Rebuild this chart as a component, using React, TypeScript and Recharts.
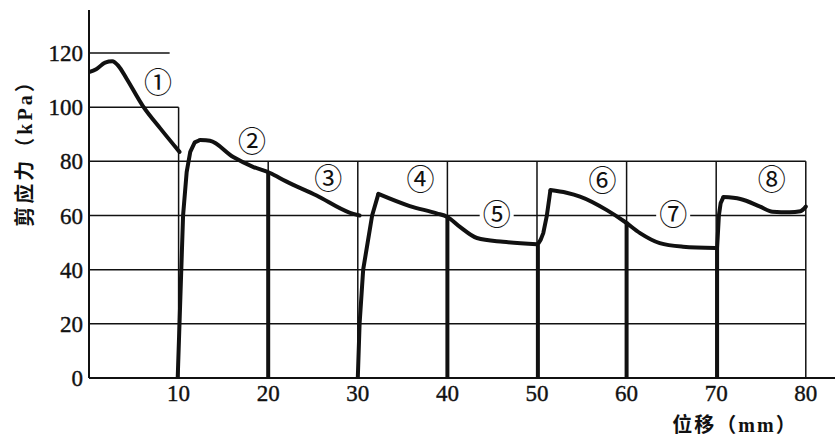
import React from 'react'
import { ComposedChart, Line, XAxis, YAxis, ReferenceLine, Scatter } from 'recharts'

// x = displacement (mm), y = shear stress (kPa)
const xTicks = [10, 20, 30, 40, 50, 60, 70, 80]
const yTicks = [0, 20, 40, 60, 80, 100, 120]

// partial grid as printed
const hGridLevels = [120, 100, 80, 60, 40, 20]
const hGridEnds = [9, 10, 80, 80, 80, 80]
const vGridPos = [10, 20, 30, 40, 50, 60, 70, 80]
const vGridTops = [100, 80, 80, 80, 80, 80, 80, 80]

// curve pieces (rises are drawn straight, decays smooth)
const decay1 = [[0, 113], [0.8, 114], [1.8, 116.5], [2.6, 117], [3.3, 115.2], [4.2, 110.5], [6, 100.5], [8, 92], [10.1, 83.5]]
const rise2 = [[9.9, 0], [10.2, 30], [10.5, 60], [10.9, 76], [11.3, 83.5], [11.8, 87], [12.4, 87.9]]
const decay2 = [[12.4, 87.9], [13.5, 87.6], [16.1, 81.6], [18.3, 78], [20.2, 75.7], [22, 72.6], [25.4, 67.4], [29, 61.2], [30.2, 60]]
const rise3 = [[30, 0], [30.2, 20], [30.6, 40], [31.1, 50], [31.6, 60], [32.3, 68]]
const decay3 = [[32.3, 68], [35.8, 63.5], [38.8, 60.8], [40, 59.5], [41.4, 55.8], [43.3, 51.7], [46.2, 50.3], [50, 49.4]]
const rise4 = [[50.1, 0], [50.1, 49.4], [50.4, 51], [50.7, 53.5], [51.1, 60], [51.4, 67], [51.5, 69.4]]
const decay4 = [[51.5, 69.4], [53.3, 68.4], [54.8, 67], [57.8, 62], [59.8, 57.7], [61.5, 53.5], [63.7, 49.8], [66.3, 48.5], [69.9, 48]]
const rise5 = [[70.1, 0], [70.1, 48], [70.3, 60], [70.5, 64.6], [70.8, 66.8]]
const decay5 = [[70.8, 66.8], [72.7, 66.1], [74.9, 63.3], [76.3, 61.4], [78.2, 61.2], [79.4, 61.6], [80, 63.3]]

// heavy verticals down to the axis
const dropX = [20, 40, 60]
const dropTop = [75.7, 59.5, 57.7]

// circled stage numbers
const markText = ['①', '②', '③', '④', '⑤', '⑥', '⑦', '⑧']
const markX = [7.7, 18.2, 26.7, 37, 45.5, 57.3, 65.2, 76.2]
const markY = [109, 87, 73.5, 73, 60.3, 72.7, 60.2, 73]
const markGap = [false, false, false, false, true, false, true, false]

const pts = (a: number[][]) => a.map(([x, y]) => ({ x, y }))
const rises = [rise2, rise3, rise4, rise5]
const decays = [decay1, decay2, decay3, decay4, decay5]
const drops = dropX.map((x, i) => [[x, 0], [x, dropTop[i]]])
const marks = markText.map((t, i) => ({ x: markX[i], y: markY[i], t, gap: markGap[i] }))

const serif = '"Liberation Serif", "DejaVu Serif", serif'
const mixed = '"Liberation Serif", "Noto Sans CJK SC", serif'
const ink = '#111'

const XTick = (p: any) => (
  <text x={p.x} y={p.y + 23} textAnchor="middle" style={{ fontFamily: serif, fontSize: 23 }} fill={ink} stroke={ink} strokeWidth={0.4}>{p.payload.value}</text>
)
const YTick = (p: any) => (
  <text x={p.x - 6} y={p.y + 8} textAnchor="end" style={{ fontFamily: serif, fontSize: 23 }} fill={ink} stroke={ink} strokeWidth={0.4}>{p.payload.value}</text>
)
const Mark = (p: any) => (
  <g>
    {p.payload.gap && <rect x={p.cx - 17} y={p.cy - 13} width={34} height={26} fill="#fff" />}
    <text x={p.cx} y={p.cy + 10} textAnchor="middle" style={{ fontFamily: '"Noto Sans CJK SC", "DejaVu Sans", sans-serif', fontSize: 28 }} fill={ink}>{p.payload.t}</text>
  </g>
)

export default function App() {
  return (
    <div style={{ position: 'absolute', left: 0, top: 0, width: 839, height: 437, background: '#fff' }}>
      <ComposedChart width={839} height={437} margin={{ top: 10, right: 4, left: 0, bottom: 0 }}>
        <XAxis dataKey="x" type="number" domain={[0, 83.26]} ticks={xTicks} tick={<XTick />} tickLine={false}
          tickSize={0} tickMargin={0} height={59} axisLine={{ stroke: ink, strokeWidth: 2 }} allowDataOverflow />
        <YAxis dataKey="y" type="number" domain={[0, 135.9]} ticks={yTicks} tick={<YTick />} tickLine={false}
          tickSize={0} tickMargin={0} width={89} axisLine={{ stroke: ink, strokeWidth: 2 }} allowDataOverflow />
        {hGridLevels.map((y, i) => (
          <ReferenceLine key={'h' + y} segment={[{ x: 0, y }, { x: hGridEnds[i], y }]} stroke={ink} strokeWidth={1.5} ifOverflow="visible" />
        ))}
        {vGridPos.map((x, i) => (
          <ReferenceLine key={'v' + x} segment={[{ x, y: 0 }, { x, y: vGridTops[i] }]} stroke={ink} strokeWidth={1.5} ifOverflow="visible" />
        ))}
        {drops.map((d, i) => (
          <Line key={'d' + i} data={pts(d)} dataKey="y" type="linear" stroke={ink} strokeWidth={4} dot={false} isAnimationActive={false} />
        ))}
        {rises.map((d, i) => (
          <Line key={'r' + i} data={pts(d)} dataKey="y" type="linear" stroke={ink} strokeWidth={4} strokeLinejoin="round" dot={false} isAnimationActive={false} />
        ))}
        {decays.map((d, i) => (
          <Line key={'c' + i} data={pts(d)} dataKey="y" type="monotone" stroke={ink} strokeWidth={4} strokeLinecap="round" dot={false} isAnimationActive={false} />
        ))}
        <Scatter data={marks} dataKey="y" shape={<Mark />} isAnimationActive={false} />
      </ComposedChart>
      <div style={{ position: 'absolute', left: 23, top: 148, transform: 'translate(-50%, -50%) rotate(-90deg)', whiteSpace: 'nowrap',
        fontFamily: mixed, fontWeight: 700, fontSize: 20, letterSpacing: 3, color: ink }}>剪应力（kPa）</div>
      <div style={{ position: 'absolute', left: 735, top: 423, transform: 'translate(-50%, -50%)', whiteSpace: 'nowrap',
        fontFamily: mixed, fontWeight: 700, fontSize: 20, letterSpacing: 2, color: ink }}>位移（mm）</div>
    </div>
  )
}
